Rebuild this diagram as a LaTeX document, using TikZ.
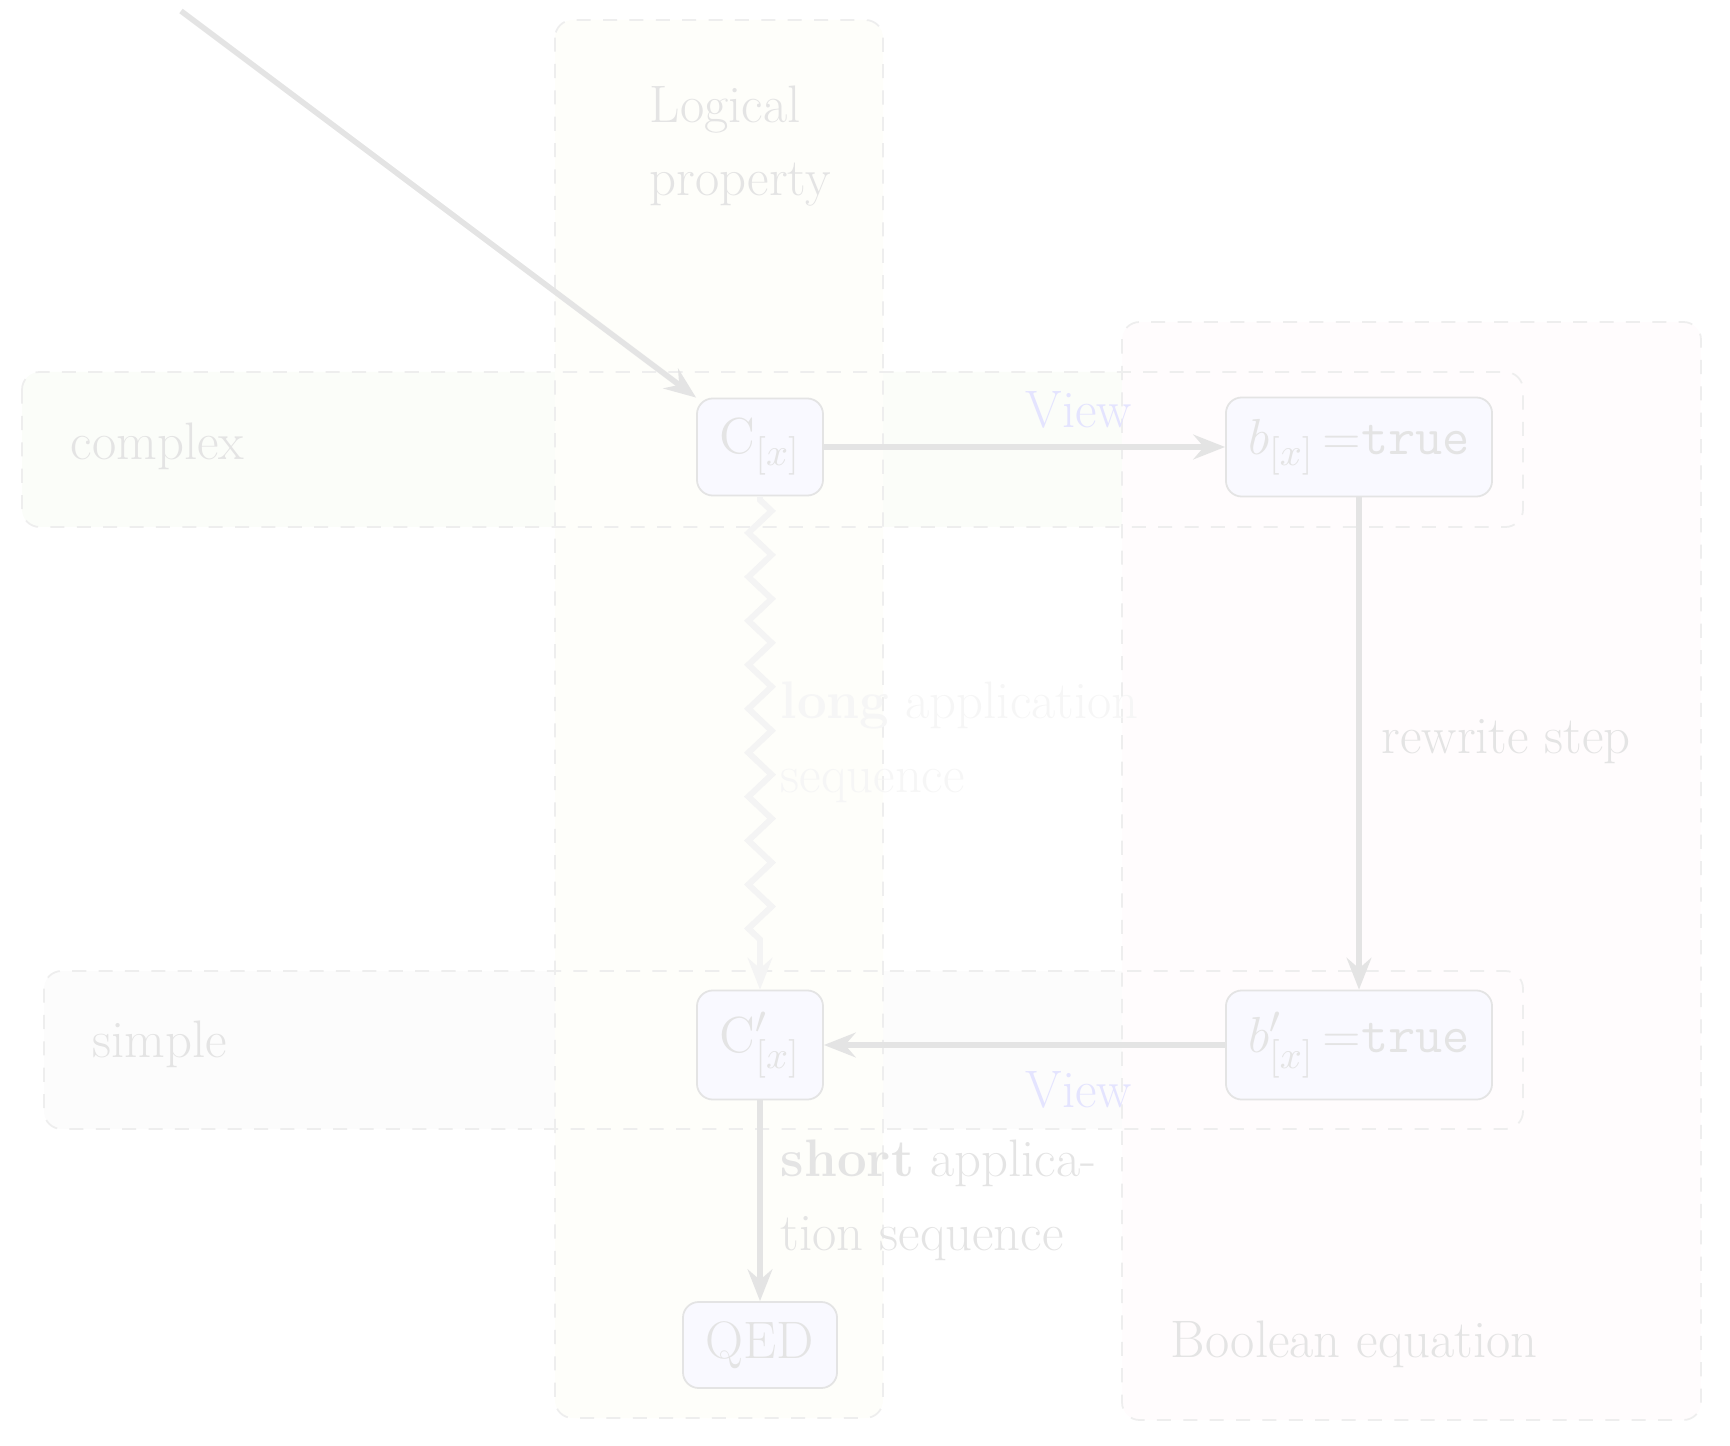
\documentclass[tikz,border=0pt]{standalone}
\usetikzlibrary{arrows.meta,decorations.pathmorphing}
\definecolor{txtgray}{RGB}{228,228,228}
\definecolor{faintgray}{RGB}{246,246,246}
\definecolor{viewblue}{RGB}{228,228,255}
\definecolor{nodefill}{RGB}{249,249,255}
\definecolor{nodeline}{RGB}{228,228,228}
\definecolor{arrowgray}{RGB}{228,228,228}
\definecolor{zzgray}{RGB}{244,244,244}
\definecolor{laneline}{RGB}{238,238,238}
\definecolor{colyellow}{RGB}{254,254,250}
\definecolor{colpink}{RGB}{255,252,253}
\definecolor{rowgreen}{RGB}{251,253,249}
\definecolor{rowgray}{RGB}{252,252,252}
\newcommand\mybigfont{\fontsize{15}{21}\selectfont}
\tikzset{
  lane/.style={draw=laneline, line width=0.5pt, dash pattern=on 4pt off 3.5pt, rounded corners=5pt},
  statebox/.style={draw=nodeline, fill=nodefill, line width=0.5pt, rounded corners=4.5pt, text=txtgray, font=\mybigfont, inner sep=0pt},
  lbl/.style={text=txtgray, font=\mybigfont, inner sep=0pt},
  conn/.style={draw=arrowgray, line width=1.6pt, -{Stealth[length=9pt,width=7pt,inset=3pt]}},
}
\begin{document}
\begin{tikzpicture}[x=0.01cm, y=-0.01cm]
\useasboundingbox (0,0) rectangle (1730,1446);
% lane fills
\fill[rowgreen, rounded corners=5pt] (22,372) rectangle (1523,527);
\fill[rowgray, rounded corners=5pt] (44,971) rectangle (1523,1129);
\fill[colyellow, rounded corners=5pt] (555,20) rectangle (883,1418);
\fill[colpink, rounded corners=5pt] (1122,322) rectangle (1701,1420);
% lane borders
\draw[lane] (22,372) rectangle (1523,527);
\draw[lane] (44,971) rectangle (1523,1129);
\draw[lane] (555,20) rectangle (883,1418);
\draw[lane] (1122,322) rectangle (1701,1420);
% lane labels
\node[lbl, anchor=west, align=left] (lp) at (649,146) {Logical\\property};
\node[lbl, anchor=west] (cplx) at (70,446) {complex};
\node[lbl, anchor=west] (smpl) at (92,1044) {simple};
\node[lbl, anchor=west] (beq) at (1170,1344) {Boolean equation};
% nodes
\node[statebox, minimum width=1.26cm, minimum height=0.97cm] (cx) at (760,447) {$\mathrm{C}_{[x]}$};
\node[statebox, minimum width=2.66cm, minimum height=0.99cm] (bx) at (1359,447) {$b_{[x]}\,{=}\texttt{true}$};
\node[statebox, minimum width=1.26cm, minimum height=1.09cm] (cpx) at (760,1045) {$\mathrm{C}'_{[x]}$};
\node[statebox, minimum width=2.66cm, minimum height=1.09cm] (bpx) at (1359,1045) {$b'_{[x]}\,{=}\texttt{true}$};
\node[statebox, minimum width=1.54cm, minimum height=0.86cm] (qed) at (760,1345) {QED};
% connectors
\coordinate (start) at (181,11);
\draw[conn] (start) -- (cx.north west);
\draw[conn] (cx.east) -- (bx.west);
\draw[conn] (bx.south) -- (bpx.north);
\draw[conn] (bpx.west) -- (cpx.east);
\draw[conn] (cpx.south) -- (qed.north);
\draw[draw=zzgray, line width=1.7pt, decorate, decoration={zigzag, amplitude=3.3pt, segment length=12.5pt, pre length=1pt, post length=9pt}, -{Stealth[length=9pt,width=7pt,inset=3pt]}] (cx.south) -- (cpx.north);
% edge labels
\node[lbl, text=viewblue] (v1) at (1079,410) {View};
\node[lbl, text=viewblue] (v2) at (1079,1090) {View};
\node[lbl, anchor=west] (rw) at (1381,742) {rewrite step};
\node[lbl, text=faintgray, anchor=west, align=left] (lg) at (780,742) {\textbf{long} application\\sequence};
\node[lbl, anchor=west, align=left] (sh) at (780,1200) {\textbf{short} applica-\\tion sequence};
\end{tikzpicture}
\end{document}
